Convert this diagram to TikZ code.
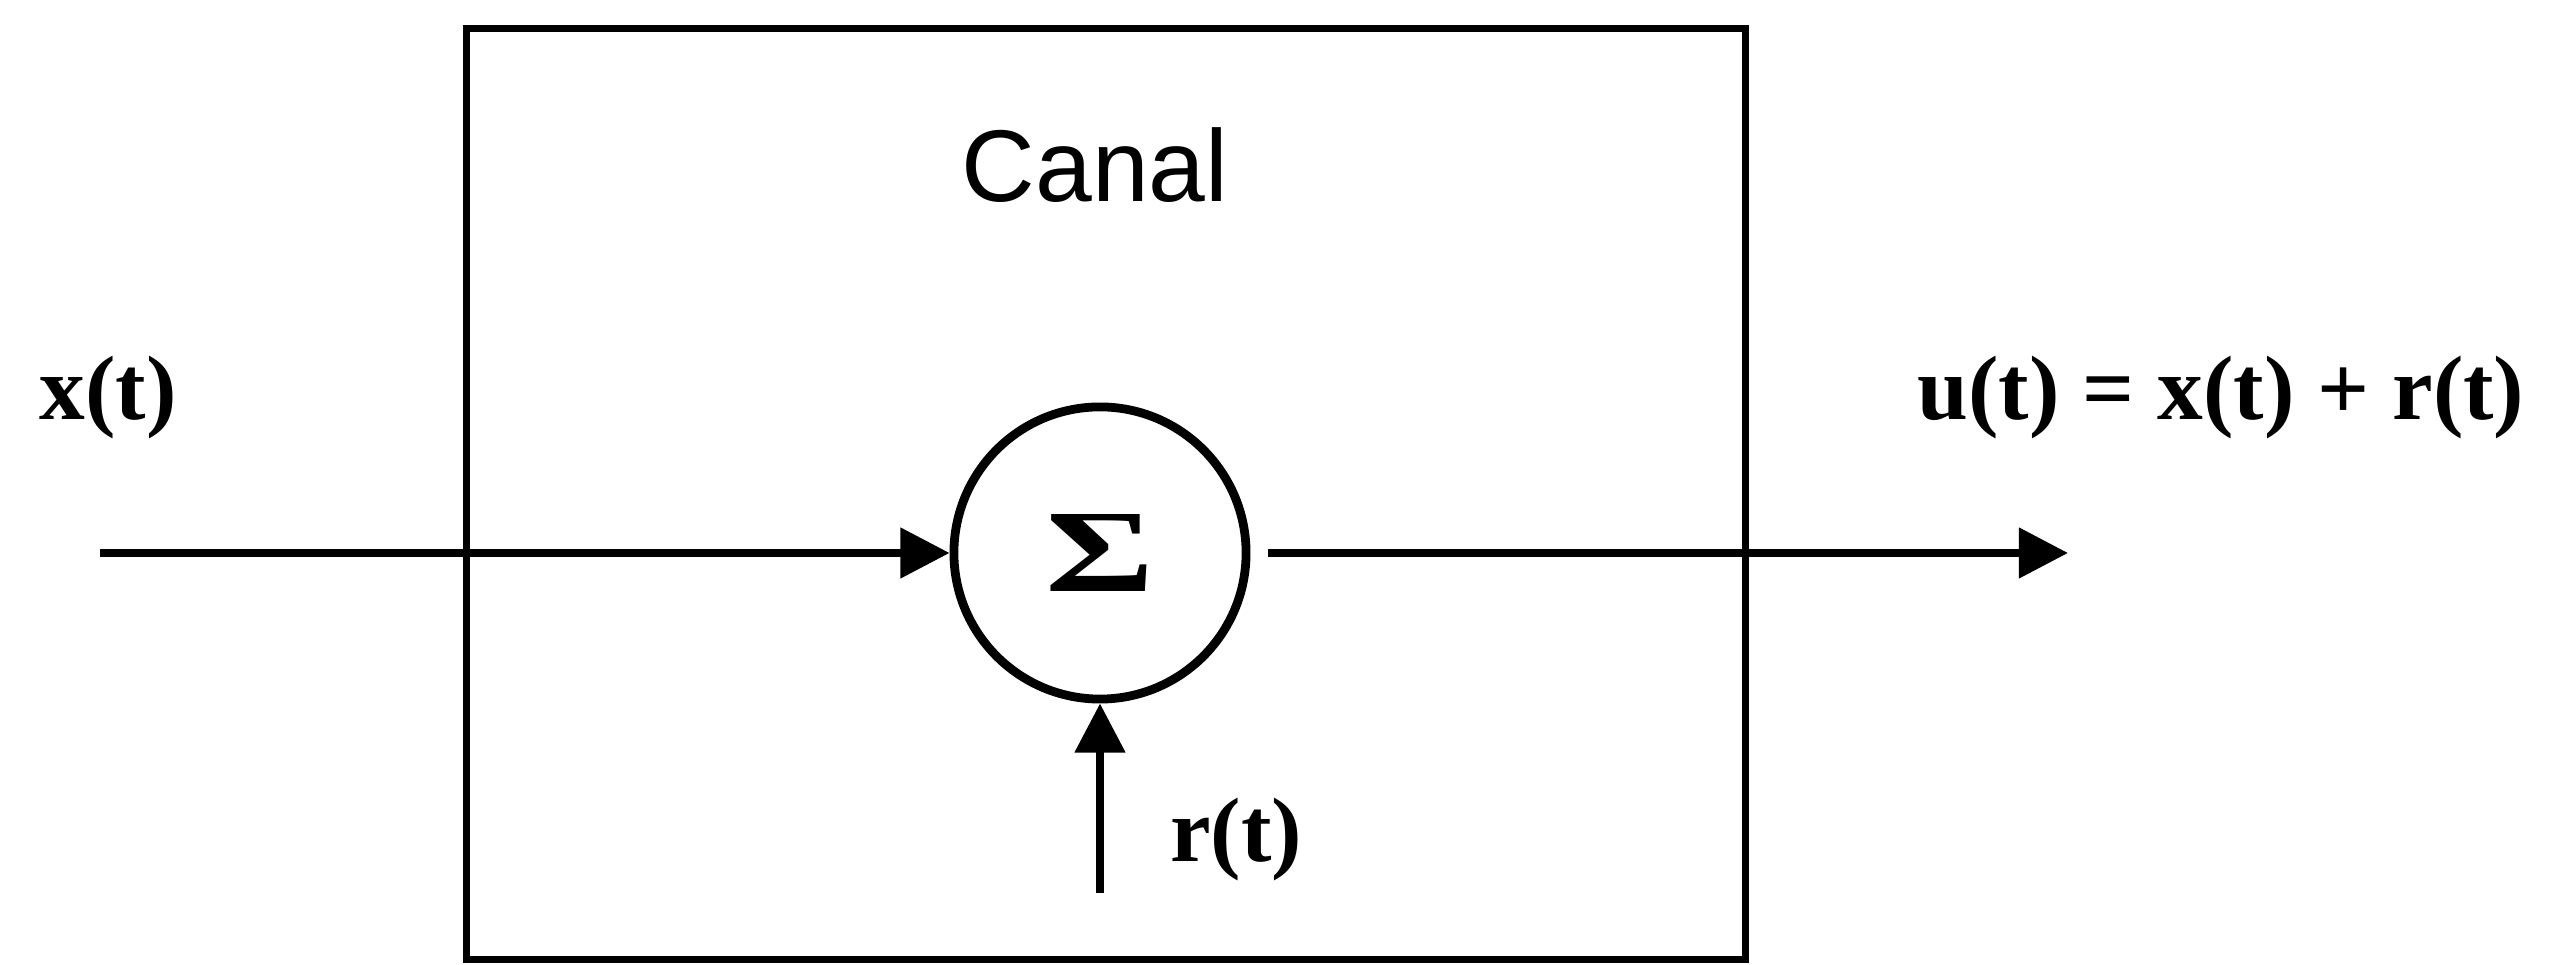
\documentclass[tikz,border=0pt]{standalone}
\usepackage{fontspec}
\usepackage{graphicx}
\setmainfont{Liberation Serif}
\newfontfamily\canalfont{Liberation Sans}
\usetikzlibrary{arrows.meta}
\begin{document}
\begin{tikzpicture}[x=0.01cm,y=-0.01cm,
  sig/.style={line width=2.2pt},
  arr/.style={sig,-{Triangle[length=14pt,width=14pt]}},
  lbl/.style={font=\fontsize{26}{30}\selectfont\bfseries, inner sep=0pt}]
\useasboundingbox (0,0) rectangle (2550,965);
\node[draw, line width=2pt, minimum width=12.78cm, minimum height=9.3cm,
      inner sep=0pt, outer sep=0pt] (box) at (1106,494) {};
\node[font=\canalfont\fontsize{29}{34}\selectfont, inner sep=0pt] (title) at (1095,165) {Canal};
\node[draw, circle, line width=2.5pt, minimum size=2.92cm, inner sep=0pt,
      font=\fontsize{38}{44}\selectfont\bfseries] (sum) at (1100,553) {\scalebox{1.25}[0.88]{Σ}};
\coordinate (in) at (100,553);
\coordinate (out) at (2068,553);
\coordinate (noise) at (1100,893);
\draw[arr] (in) -- (sum.west);
\draw[arr, shorten <=5pt] (sum.east) -- (out);
\draw[arr] (noise) -- (sum.south);
\node[lbl] (xl) at (108,398) {x(t)};
\node[lbl] (ul) at (2221,398) {u(t) = x(t) + r(t)};
\node[lbl] (rl) at (1236,840) {r(t)};
\end{tikzpicture}
\end{document}
